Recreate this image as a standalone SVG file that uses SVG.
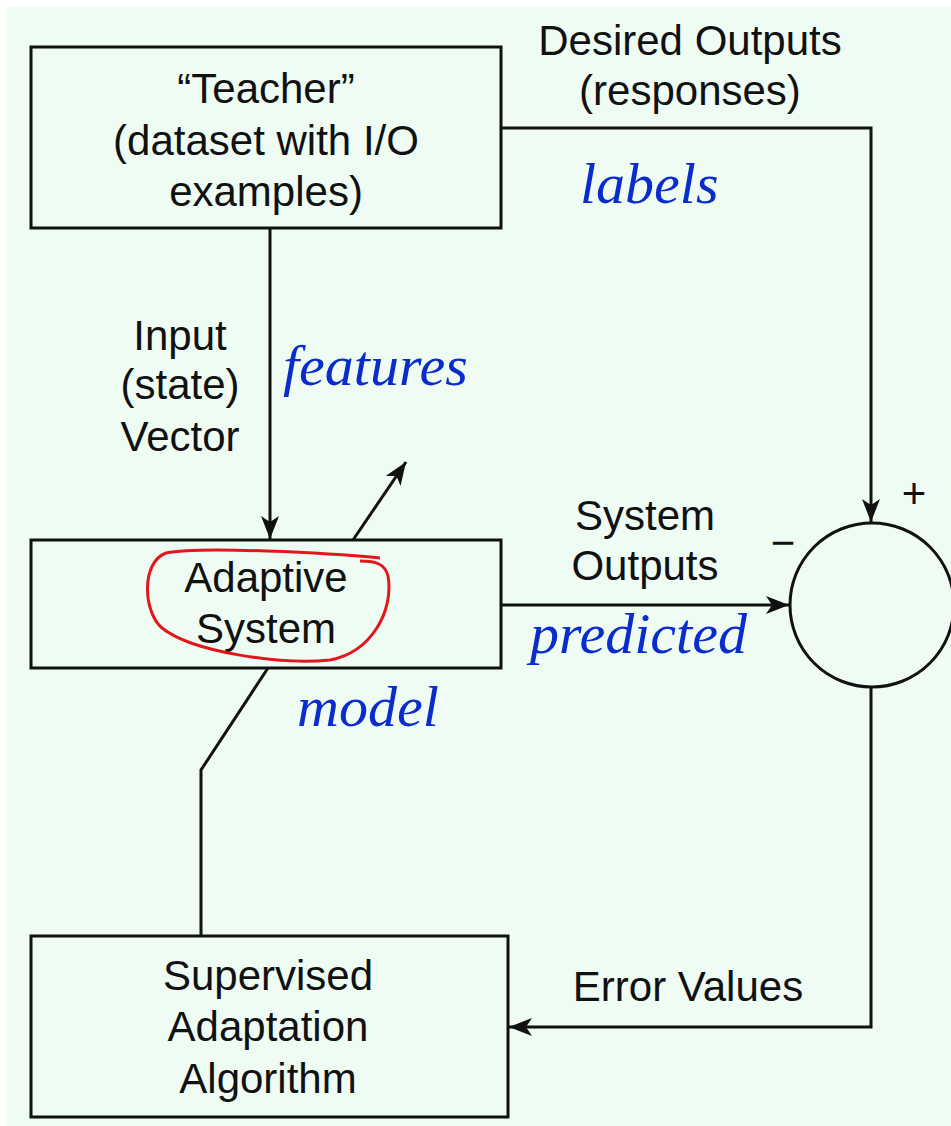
<svg xmlns="http://www.w3.org/2000/svg" width="951" height="1126" viewBox="0 0 951 1126">
<defs>
<marker id="arr" markerWidth="26" markerHeight="22" refX="23" refY="11" orient="auto" markerUnits="userSpaceOnUse">
<path d="M0,2 L23,11 L0,20 L6,11 Z" fill="#111"/>
</marker>
<style>
.box{fill:none;stroke:#111;stroke-width:3}
.ln{fill:none;stroke:#111;stroke-width:3}
.t{font-family:"Liberation Sans",Arial,sans-serif;font-size:42px;fill:#111;text-anchor:middle}
.b{font-family:"Liberation Serif","Times New Roman",serif;font-style:italic;font-size:58px;fill:#0a2ccc}
</style>
</defs>
<rect width="951" height="1126" fill="#ffffff"/>
<rect x="6" y="7" width="945" height="1119" fill="#eefcf4"/>
<g id="connectors">
<polyline class="ln" points="501,128 871,128 871,522" marker-end="url(#arr)"/>
<line class="ln" x1="270" y1="228" x2="270" y2="539" marker-end="url(#arr)"/>
<line class="ln" x1="353" y1="540" x2="406" y2="462" marker-end="url(#arr)"/>
<line class="ln" x1="501" y1="605" x2="789" y2="605" marker-end="url(#arr)"/>
<polyline class="ln" points="871,687 871,1027 509,1027" marker-end="url(#arr)"/>
<polyline class="ln" points="268,668 201,770 201,936"/>
</g>
<g id="teacher">
<rect class="box" x="31" y="47" width="470" height="181"/>
<text class="t" x="266" y="103">“Teacher”</text>
<text class="t" x="266" y="155">(dataset with I/O</text>
<text class="t" x="266" y="206">examples)</text>
</g>
<g id="adaptive">
<rect class="box" x="31" y="540" width="470" height="128"/>
<text class="t" x="266" y="592">Adaptive</text>
<text class="t" x="266" y="643">System</text>
<path d="M380,558 C330,553 200,546 166,553 C141,562 143,612 162,628 C192,652 280,665 330,660 C372,652 394,610 388,576 C385,564 376,561 360,561" fill="none" stroke="#e3161c" stroke-width="3"/>
</g>
<g id="sum">
<circle cx="872" cy="605" r="82" fill="none" stroke="#111" stroke-width="3"/>
<text class="t" x="914" y="508">+</text>
<text class="t" x="783" y="557" font-size="54">−</text>
</g>
<g id="supervised">
<rect class="box" x="31" y="936" width="477" height="181"/>
<text class="t" x="268" y="990">Supervised</text>
<text class="t" x="268" y="1041">Adaptation</text>
<text class="t" x="268" y="1093">Algorithm</text>
</g>
<g id="labels">
<text class="t" x="690" y="55">Desired Outputs</text>
<text class="t" x="690" y="105">(responses)</text>
<text class="t" x="180" y="350">Input</text>
<text class="t" x="180" y="399">(state)</text>
<text class="t" x="180" y="451">Vector</text>
<text class="t" x="645" y="530">System</text>
<text class="t" x="645" y="580">Outputs</text>
<text class="t" x="688" y="1001">Error Values</text>
<text class="b" x="580" y="203">labels</text>
<text class="b" x="283" y="385">features</text>
<text class="b" x="530" y="653">predicted</text>
<text class="b" x="297" y="726">model</text>
</g>
</svg>
